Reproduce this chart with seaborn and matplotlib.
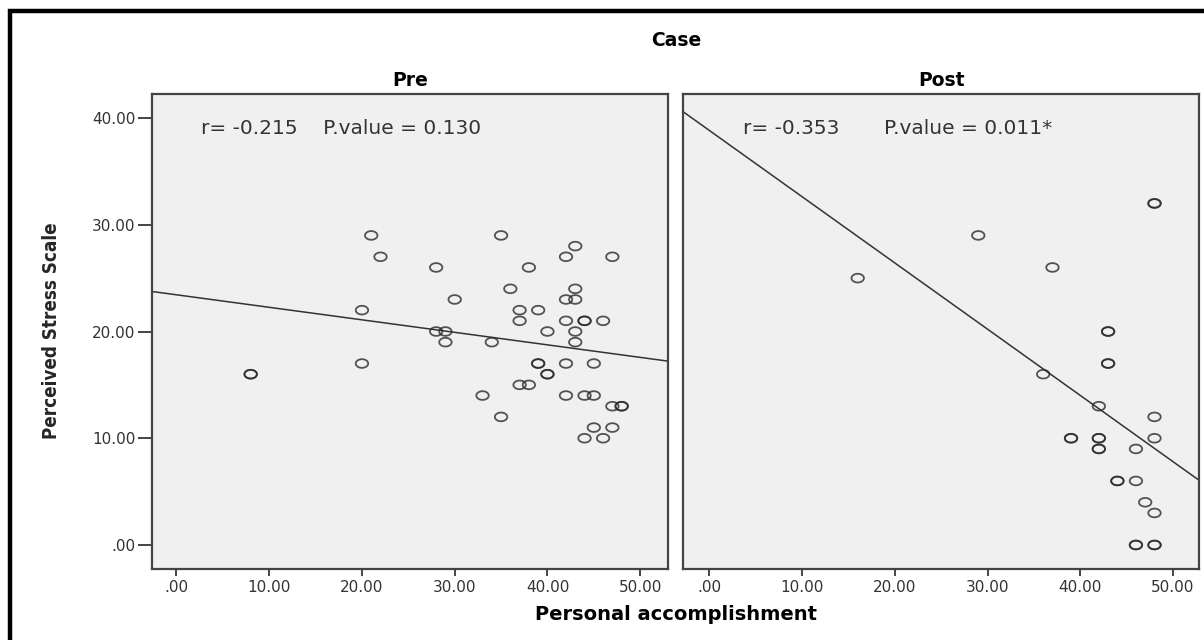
import numpy as np
import pandas as pd
import matplotlib
matplotlib.use("Agg")
import matplotlib.pyplot as plt
from matplotlib.path import Path
from matplotlib.lines import Line2D
from matplotlib.ticker import FixedLocator, FuncFormatter
from matplotlib import font_manager as fm
import seaborn as sns

# ---------------- data ----------------
pre_x = [21, 35, 43, 22, 42, 47, 28, 38, 36, 43, 30, 42, 43, 20, 37, 39, 37, 42, 44, 44,
         46, 28, 29, 40, 43, 29, 34, 43, 20, 39, 39, 42, 45, 8, 8, 40, 40, 37, 38, 33,
         42, 44, 45, 47, 48, 48, 35, 45, 47, 44, 46]
pre_y = [29, 29, 28, 27, 27, 27, 26, 26, 24, 24, 23, 23, 23, 22, 22, 22, 21, 21, 21, 21,
         21, 20, 20, 20, 20, 19, 19, 19, 17, 17, 17, 17, 17, 16, 16, 16, 16, 15, 15, 14,
         14, 14, 14, 13, 13, 13, 12, 11, 11, 10, 10]
post_x = [48, 48, 29, 37, 16, 43, 43, 43, 43, 36, 42, 48, 39, 39, 42, 42, 48, 42, 42, 46,
          44, 44, 46, 47, 48, 46, 46, 48, 48]
post_y = [32, 32, 29, 26, 25, 20, 20, 17, 17, 16, 13, 12, 10, 10, 10, 10, 10, 9, 9, 9,
          6, 6, 6, 4, 3, 0, 0, 0, 0]

panel_titles = ["Pre", "Post"]
stat_texts = ["r= -0.215    P.value = 0.130", "r= -0.353       P.value = 0.011*"]
tick_values = [0, 10, 20, 30, 40, 50]
y_tick_values = [0, 10, 20, 30, 40]
super_title = "Case"
x_label = "Personal accomplishment"
y_label = "Perceived Stress Scale"

df = pd.concat([
    pd.DataFrame({"x": pre_x, "y": pre_y, "phase": "Pre"}),
    pd.DataFrame({"x": post_x, "y": post_y, "phase": "Post"}),
], ignore_index=True)

# ---------------- style ----------------
sns.set_theme(style="white")
plt.rcParams["font.family"] = ["DejaVu Sans"]

W, H = 1204, 640
fig = plt.figure(figsize=(W / 100, H / 100), dpi=100)
fig.patch.set_facecolor("white")

def fx(px):
    return px / W

def fy(py):
    return 1 - py / H

# axes geometry (pixels)
top, bottom = 94, 569
panels = [(152, 668, (-2.64, 53.0)), (683, 1199, (-2.84, 52.8))]
ylim = (-2.25, 42.25)

# elliptical open-circle marker (reference markers are wider than tall)
t = np.linspace(0, 2 * np.pi, 60)
ell = Path(np.column_stack([np.cos(t), 0.7 * np.sin(t)]), closed=True)

fmt = FuncFormatter(lambda v, p: ("%.2f" % v).lstrip("0") if abs(v) < 1e-9 else "%.2f" % v)

for i, (x0, x1, xl) in enumerate(panels):
    ax = fig.add_axes([fx(x0), fy(bottom), fx(x1 - x0), (bottom - top) / H])
    ax.set_facecolor("#f0f0f0")
    ax.set_xlim(*xl)
    ax.set_ylim(*ylim)
    sub = df[df["phase"] == panel_titles[i]]
    sns.regplot(data=sub, x="x", y="y", ax=ax, ci=None, truncate=False,
                marker=ell,
                scatter_kws={"s": 80, "facecolors": "none", "edgecolors": "#2b2b2b",
                             "linewidths": 1.3, "alpha": 0.8, "zorder": 3},
                line_kws={"color": "#333333", "lw": 1.1, "zorder": 2})
    ax.set_xlim(*xl)
    ax.set_ylim(*ylim)
    ax.set_xlabel("")
    ax.set_ylabel("")
    for s in ax.spines.values():
        s.set_visible(True)
        s.set_color("#444444")
        s.set_linewidth(1.6)
    ax.xaxis.set_major_locator(FixedLocator(tick_values))
    ax.xaxis.set_major_formatter(fmt)
    ax.tick_params(axis="x", direction="out", length=5, width=1.4, color="#444444",
                   labelsize=11, labelcolor="#333333", pad=3, bottom=True)
    if i == 0:
        ax.yaxis.set_major_locator(FixedLocator(y_tick_values))
        ax.yaxis.set_major_formatter(fmt)
        ax.tick_params(axis="y", direction="out", length=10, width=1.4, color="#444444",
                       labelsize=11, labelcolor="#333333", pad=2, left=True)
    else:
        ax.set_yticks([])
    ax.grid(False)
    tx = [0.095, 0.116][i]
    ax.text(tx, 0.927, stat_texts[i], transform=ax.transAxes, fontsize=14.5,
            color="#333333", ha="left", va="center")
    fig.text(fx((x0 + x1) / 2), fy(80), panel_titles[i], ha="center", va="center",
             fontsize=13.5, fontweight="bold", color="black")

fig.text(fx(676), fy(41), super_title, ha="center", va="center", fontsize=13.5,
         fontweight="bold", color="black")
fig.text(fx(676), fy(614), x_label, ha="center", va="center", fontsize=14,
         fontweight="bold", color="black")

names = {f.name for f in fm.fontManager.ttflist}
if "Liberation Sans Narrow" in names:
    fig.text(fx(52), fy(331), y_label, rotation=90, ha="center", va="center",
             fontsize=16, fontweight="bold", family=["Liberation Sans Narrow", "DejaVu Sans"])
else:
    fig.text(fx(52), fy(331), y_label, rotation=90, ha="center", va="center",
             fontsize=13.5, fontweight="bold", fontstretch="condensed")

# outer black frame (left and top visible in reference)
fig.add_artist(Line2D([fx(10), fx(10), 1.0], [0.0, fy(11), fy(11)],
                      transform=fig.transFigure, color="black", lw=3.2,
                      solid_joinstyle="miter"))

fig.savefig("out.png", dpi=100, facecolor="white")
